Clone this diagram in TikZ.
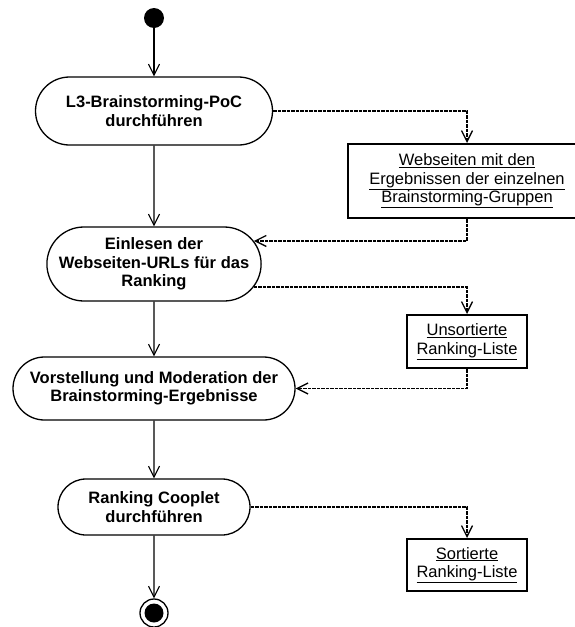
\documentclass[tikz,border=0pt]{standalone}
\usepackage{fontspec}
\setmainfont{Liberation Sans}
\usetikzlibrary{shapes.misc, arrows.meta, positioning}

\begin{document}
\begin{tikzpicture}[x=1pt, y=-1pt,
        every node/.style={font=\fontsize{16.5}{18.5}\selectfont, align=center},
        activity/.style={rounded rectangle, draw, line width=1.3pt, font=\bfseries\fontsize{16.5}{18.5}\selectfont, inner sep=1pt},
        object/.style={rectangle, draw, line width=2pt, inner sep=1pt},
        flow/.style={line width=1.1pt, -{Straight Barb[length=11pt,width=11pt]}},
        objflow/.style={flow, line width=1.3pt, dash pattern=on 3.5pt off 1pt},
        startdot/.style={circle, fill, minimum size=20pt, inner sep=0pt},
        enddot/.style={circle, draw, line width=1.3pt, minimum size=28pt, inner sep=0pt,
            path picture={\fill (path picture bounding box.center) circle (9.5pt);}}]
        \useasboundingbox (0,0) rectangle (575,627);

        % Start and end
        \node[startdot] (start) at (154,18) {};
        \node[enddot] (stop) at (154,613) {};

        % Activities
        \node[activity, minimum width=239pt, minimum height=68pt] (poc) at (154,111) {L3-Brainstorming-PoC\\durchführen};
        \node[activity, minimum width=210pt, minimum height=74pt] (read) at (154,264) {Einlesen der\\Webseiten-URLs für das\\Ranking};
        \node[activity, minimum width=284pt, minimum height=63pt] (present) at (154,388.5) {Vorstellung und Moderation der\\Brainstorming-Ergebnisse};
        \node[activity, minimum width=194pt, minimum height=56pt] (rank) at (154,507) {Ranking Cooplet\\durchführen};

        % Objects
        \node[object, minimum width=238pt, minimum height=74pt] (pages) at (467,181) {\underline{Webseiten mit den}\\\underline{Ergebnissen der einzelnen}\\\underline{Brainstorming-Gruppen}};
        \node[object, minimum width=120pt, minimum height=53pt] (unsorted) at (467,341.5) {\underline{Unsortierte}\\\underline{Ranking-Liste}};
        \node[object, minimum width=120pt, minimum height=52pt] (sorted) at (467,565) {\underline{Sortierte}\\\underline{Ranking-Liste}};

        % Control flow
        \draw[flow] (start) -- (poc);
        \draw[flow] (poc) -- (read);
        \draw[flow] (read) -- (present);
        \draw[flow] (present) -- (rank);
        \draw[flow] (rank) -- (stop);

        % Object flow
        \draw[objflow] (poc.east) -| (pages.north);
        \draw[objflow] (pages.south) |- (read.13);
        \draw[objflow] (read.-13) -| (unsorted.north);
        \draw[objflow] (unsorted.south) |- (present.east);
        \draw[objflow] (rank.east) -| (sorted.north);
\end{tikzpicture}
\end{document}
